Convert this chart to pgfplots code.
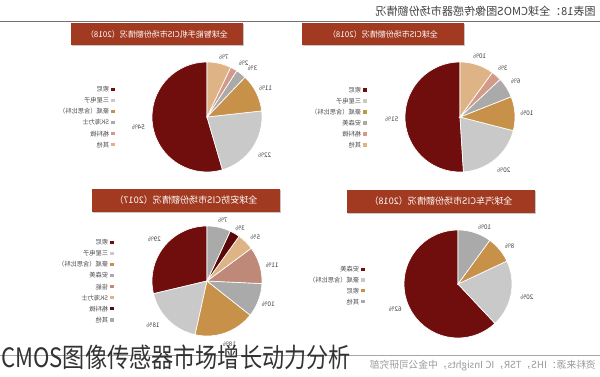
\documentclass[border=0pt]{standalone}
\usepackage{pgfplots}
\pgfplotsset{compat=1.18}
\usepackage{pgfplotstable}
\usepackage{graphicx}
\usepackage{fontspec}
\setmainfont{Noto Sans CJK SC}

\definecolor{cDR}{HTML}{700D0D}
\definecolor{cLG}{HTML}{C9C9C9}
\definecolor{cGO}{HTML}{C8914A}
\definecolor{cGR}{HTML}{AAAAAA}
\definecolor{cSA}{HTML}{D39A89}
\definecolor{cTA}{HTML}{DEB486}
\definecolor{cRO}{HTML}{BE8978}
\definecolor{cDK}{HTML}{5A0808}
\definecolor{hdr}{HTML}{A23A21}

% ---- data: value, colour, label radius, label angle shift ----
\pgfplotstableread{
v c r a
54 cDR 1.26 0
22 cLG 1.26 0
11 cGO 1.19 0
3 cGR 1.21 -5
2 cSA 1.19 -5
7 cTA 1.13 -3
}\tblTL
\pgfplotstableread{
v c r a
51 cDR 1.24 0
20 cLG 1.25 0
10 cGO 1.22 0
6 cGR 1.20 0
3 cSA 1.18 0
10 cTA 1.16 0
}\tblTR
\pgfplotstableread{
v c r a
29 cDR 1.22 0
18 cLG 1.27 -6
18 cGO 1.22 0
10 cGR 1.19 0
11 cRO 1.22 -3
5 cTA 1.19 -3
3 cDK 1.13 -2
7 cGR 1.15 -2
}\tblBL
\pgfplotstableread{
v c r a
62 cDR 1.25 0
20 cLG 1.30 0
8 cGO 1.19 -3
10 cGR 1.17 -7
}\tblBR

\tikzset{
 mir/.style={xscale=-1, transform shape},
 lbl/.style={font=\fontsize{4.8}{5}\selectfont, text=black!75, inner sep=0pt, mir},
 leg/.style={font=\fontsize{4.7}{5}\selectfont, text=black!70, inner sep=0pt, mir, anchor=west},
}
\pgfplotsset{pieaxis/.style={hide axis, scale only axis, width=#1, height=#1,
  xmin=-1,xmax=1,ymin=-1,ymax=1, clip=false, anchor=center}}

\newcommand{\drawpie}[2]{%
  \pgfplotstablegetrowsof{#1}%
  \pgfmathtruncatemacro\pn{\pgfplotsretval-1}%
  \def\psum{0}%
  \pgfplotsforeachungrouped \i in {0,...,\pn}{%
    \pgfplotstablegetelem{\i}{v}\of{#1}%
    \pgfmathsetmacro\psum{\psum+\pgfplotsretval}%
  }%
  \def\pstart{90}%
  \pgfplotsforeachungrouped \i in {0,...,\pn}{%
    \pgfplotstablegetelem{\i}{v}\of{#1}\let\pv\pgfplotsretval
    \pgfplotstablegetelem{\i}{c}\of{#1}\let\pc\pgfplotsretval
    \pgfplotstablegetelem{\i}{r}\of{#1}\let\pr\pgfplotsretval
    \pgfplotstablegetelem{\i}{a}\of{#1}\let\pa\pgfplotsretval
    \pgfmathsetmacro\pend{\pstart+\pv/\psum*360}%
    \pgfmathsetmacro\plab{(\pstart+\pend)/2+(\pa)}%
    \pgfmathsetmacro\sx{cos(\pstart)}%
    \pgfmathsetmacro\sy{sin(\pstart)}%
    \pgfmathsetmacro\lx{\pr*cos(\plab)}%
    \pgfmathsetmacro\ly{\pr*sin(\plab)}%
    \edef\temp{%
      \noexpand\fill[fill=\pc,draw=white,line width=0.5pt] (axis cs:0,0) -- (axis cs:\sx,\sy) arc[start angle=\pstart,end angle=\pend,radius=#2] -- cycle;%
      \noexpand\node[lbl] at (axis cs:\lx,\ly) {\pv\noexpand\%};%
    }\temp
    \let\pstart\pend
  }%
}

\newcommand{\legitem}[4]{%
  \fill[#3] (#1-1.6,#2-1.6) rectangle (#1+1.6,#2+1.6);
  \node[leg] at (#1-3.5,#2) {#4};
}
\newcommand{\header}[6]{%
  \fill[black!22] (#1+1,#2+1.5) rectangle (#3+1,#4+1.5);
  \fill[hdr] (#1,#2) rectangle (#3,#4);
  \node[mir, text=white, font=\fontsize{#5}{#5}\selectfont, inner sep=0pt] at ({(#1+#3)/2},{(#2+#4)/2}) {#6};
}

\begin{document}
\begin{tikzpicture}[x=0.75pt,y=-0.75pt]
\useasboundingbox (0,0) rectangle (600,377);
\fill[white] (0,0) rectangle (600,377);

% title and rule
\node[mir, anchor=west, inner sep=0pt, font=\fontsize{8.3}{9}\selectfont, text=black!75] at (596,11)
  {图表18：全球CMOS图像传感器市场份额情况};
\draw[black!55, line width=0.6pt] (0,21) -- (600,21);

% headers
\header{71}{23}{243}{45}{6}{全球智能手机CIS市场份额情况（2018）}
\header{302}{23}{464}{45}{6}{全球CIS市场份额情况（2018）}
\header{92}{189}{280}{212}{6.8}{全球安防CIS市场份额情况（2017）}
\header{347}{190}{535}{213}{6.8}{全球汽车CIS市场份额情况（2018）}

% pies
\begin{axis}[pieaxis=82.5pt, at={(155.25pt,-87.75pt)}]
\drawpie{\tblTL}{41.25pt}
\end{axis}
\begin{axis}[pieaxis=82.5pt, at={(345pt,-87.75pt)}]
\drawpie{\tblTR}{41.25pt}
\end{axis}
\begin{axis}[pieaxis=82.5pt, at={(155.25pt,-210.75pt)}]
\drawpie{\tblBL}{41.25pt}
\end{axis}
\begin{axis}[pieaxis=81pt, at={(343.5pt,-213pt)}]
\drawpie{\tblBR}{40.5pt}
\end{axis}

% legends
\foreach \t/\c [count=\k from 0] in {索尼/cDR,三星电子/cLG,豪威（含思比科）/cGO,SK海力士/cGR,格科微/cSA,其他/cTA}
  {\legitem{113}{89.3+11.1*\k}{\c}{\t}}
\foreach \t/\c [count=\k from 0] in {索尼/cDR,三星电子/cLG,豪威（含思比科）/cGO,安森美/cGR,格科微/cSA,其他/cTA}
  {\legitem{365}{90+11*\k}{\c}{\t}}
\foreach \t/\c [count=\k from 0] in {索尼/cDR,三星电子/cLG,豪威（含思比科）/cGO,安森美/cGR,佳能/cRO,SK海力士/cTA,格科微/cDK,其他/cGR}
  {\legitem{112}{242.3+11.1*\k}{\c}{\t}}
\foreach \t/\c [count=\k from 0] in {安森美/cDR,豪威（含思比科）/cLG,索尼/cGO,其他/cGR}
  {\legitem{363}{269.3+10.8*\k}{\c}{\t}}

% bottom line, source, caption
\draw[black!35, line width=0.5pt] (0,355) -- (600,355);
\node[mir, anchor=west, inner sep=0pt, font=\fontsize{7.3}{8}\selectfont, text=black!40] at (596,366)
  {资料来源：IHS，TSR，IC Insights，中金公司研究部};
\node[anchor=base west, inner sep=0pt, font=\fontsize{20}{20}\selectfont, text=black!80] at (1,368)
  {\scalebox{0.83}[1]{CMOS图像传感器市场增长动力分析}};
\end{tikzpicture}
\end{document}
